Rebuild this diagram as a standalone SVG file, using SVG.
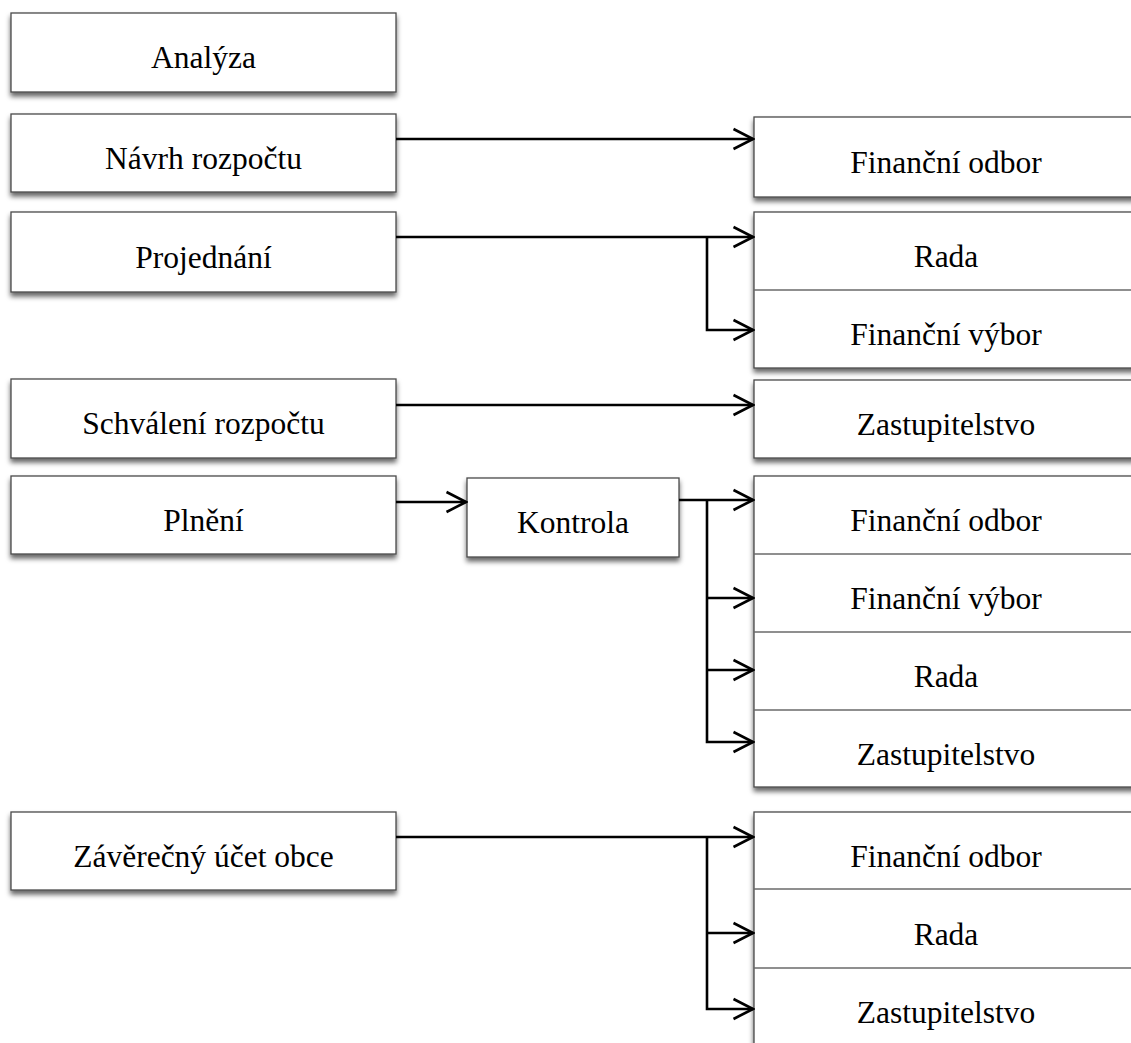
<svg xmlns="http://www.w3.org/2000/svg" width="1131" height="1043" viewBox="0 0 1131 1043">
<style>
.box{fill:#fff;stroke:#4a4a4a;stroke-width:1.3}
.div{stroke:#6a6a6a;stroke-width:1.3}
.lbl{font-family:"Liberation Serif","Times New Roman",serif;font-size:31.5px;fill:#000;text-anchor:middle}
.con{fill:none;stroke:#000;stroke-width:2.6}
</style>
<defs>
<filter id="sh" x="-5%" y="-20%" width="110%" height="150%">
<feDropShadow dx="0" dy="4" stdDeviation="2.8" flood-color="#000" flood-opacity="0.6"/>
</filter>
<marker id="arr" viewBox="-23 -12 25 24" markerWidth="25" markerHeight="24" refX="0" refY="0" orient="auto" markerUnits="userSpaceOnUse">
<path d="M-19.5,-10 L0,0 L-19.5,10" fill="none" stroke="#000" stroke-width="2.6"/>
</marker>
</defs>
<rect width="1131" height="1043" fill="#fff"/>

<g id="n-analyza"><rect class="box" filter="url(#sh)" x="11" y="13" width="385" height="79"/><text class="lbl" x="203.5" y="68">Analýza</text></g>
<g id="n-navrh"><rect class="box" filter="url(#sh)" x="11" y="114" width="385" height="78"/><text class="lbl" x="203.5" y="169">Návrh rozpočtu</text></g>
<g id="n-projednani"><rect class="box" filter="url(#sh)" x="11" y="212" width="385" height="80"/><text class="lbl" x="203.5" y="268">Projednání</text></g>
<g id="n-schvaleni"><rect class="box" filter="url(#sh)" x="11" y="379" width="385" height="79"/><text class="lbl" x="203.5" y="434">Schválení rozpočtu</text></g>
<g id="n-plneni"><rect class="box" filter="url(#sh)" x="11" y="476" width="385" height="78"/><text class="lbl" x="203.5" y="531">Plnění</text></g>
<g id="n-zaverecny"><rect class="box" filter="url(#sh)" x="11" y="812" width="385" height="78"/><text class="lbl" x="203.5" y="867">Závěrečný účet obce</text></g>
<g id="n-kontrola"><rect class="box" filter="url(#sh)" x="467" y="478" width="212" height="79"/><text class="lbl" x="573" y="533">Kontrola</text></g>

<g id="n-r1"><rect class="box" filter="url(#sh)" x="754" y="117" width="400" height="80"/><text class="lbl" x="946" y="173">Finanční odbor</text></g>
<g id="n-r2"><rect class="box" filter="url(#sh)" x="754" y="212" width="400" height="156"/><line class="div" x1="754" y1="290" x2="1140" y2="290"/><text class="lbl" x="946" y="267">Rada</text><text class="lbl" x="946" y="345">Finanční výbor</text></g>
<g id="n-r3"><rect class="box" filter="url(#sh)" x="754" y="380" width="400" height="78"/><text class="lbl" x="946" y="435">Zastupitelstvo</text></g>
<g id="n-r4"><rect class="box" filter="url(#sh)" x="754" y="476" width="400" height="311"/><line class="div" x1="754" y1="554" x2="1140" y2="554"/><line class="div" x1="754" y1="632" x2="1140" y2="632"/><line class="div" x1="754" y1="710" x2="1140" y2="710"/><text class="lbl" x="946" y="531">Finanční odbor</text><text class="lbl" x="946" y="609">Finanční výbor</text><text class="lbl" x="946" y="687">Rada</text><text class="lbl" x="946" y="765">Zastupitelstvo</text></g>
<g id="n-r5"><rect class="box" filter="url(#sh)" x="754" y="812" width="400" height="260"/><line class="div" x1="754" y1="889" x2="1140" y2="889"/><line class="div" x1="754" y1="968" x2="1140" y2="968"/><text class="lbl" x="946" y="867">Finanční odbor</text><text class="lbl" x="946" y="945">Rada</text><text class="lbl" x="946" y="1023">Zastupitelstvo</text></g>

<g id="connectors">
<line class="con" x1="396" y1="139" x2="753" y2="139" marker-end="url(#arr)"/>
<line class="con" x1="396" y1="237" x2="753" y2="237" marker-end="url(#arr)"/>
<path class="con" d="M707,237 V330 H753" marker-end="url(#arr)"/>
<line class="con" x1="396" y1="405" x2="753" y2="405" marker-end="url(#arr)"/>
<line class="con" x1="396" y1="502" x2="466" y2="502" marker-end="url(#arr)"/>
<line class="con" x1="679" y1="500" x2="753" y2="500" marker-end="url(#arr)"/>
<path class="con" d="M707,500 V742 H753" marker-end="url(#arr)"/>
<line class="con" x1="707" y1="598" x2="753" y2="598" marker-end="url(#arr)"/>
<line class="con" x1="707" y1="670" x2="753" y2="670" marker-end="url(#arr)"/>
<line class="con" x1="396" y1="837" x2="753" y2="837" marker-end="url(#arr)"/>
<path class="con" d="M707,837 V1009 H753" marker-end="url(#arr)"/>
<line class="con" x1="707" y1="933" x2="753" y2="933" marker-end="url(#arr)"/>
</g>
</svg>
